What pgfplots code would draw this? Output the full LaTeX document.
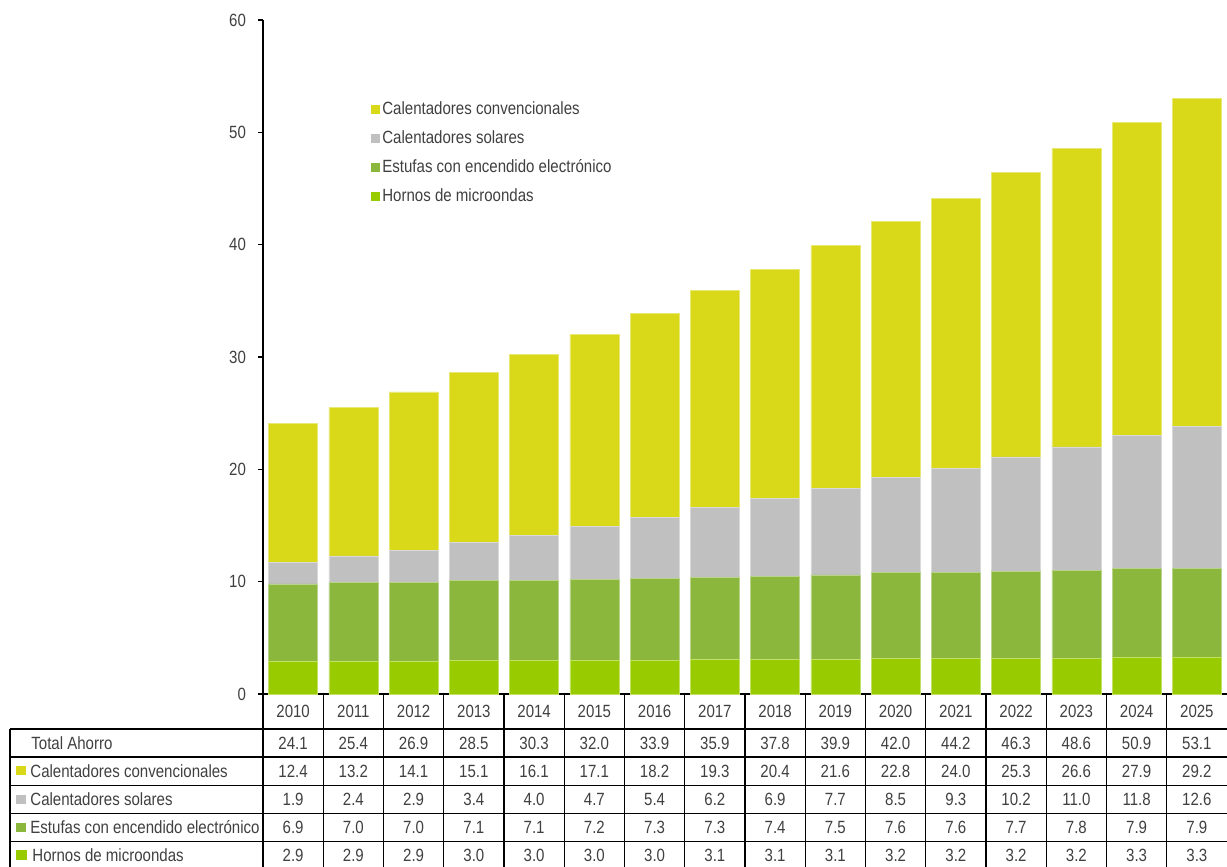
\documentclass[border=0pt]{standalone}
\usepackage{fontspec}
\setmainfont{Liberation Sans}[FakeStretch=0.85]
\usepackage{pgfplots}
\usepackage{pgfplotstable}
\pgfplotsset{compat=1.18}
\pgfkeys{/pgf/number format/assume math mode=true}

\definecolor{cconv}{RGB}{217,217,26}
\definecolor{csol}{RGB}{192,192,192}
\definecolor{cest}{RGB}{139,183,60}
\definecolor{chorn}{RGB}{153,204,0}
\definecolor{txt}{RGB}{64,64,64}

\pgfplotstableread{
year tot conv sol est horn
2010 24.1 12.4 1.9 6.9 2.9
2011 25.4 13.2 2.4 7.0 2.9
2012 26.9 14.1 2.9 7.0 2.9
2013 28.5 15.1 3.4 7.1 3.0
2014 30.3 16.1 4.0 7.1 3.0
2015 32.0 17.1 4.7 7.2 3.0
2016 33.9 18.2 5.4 7.3 3.0
2017 35.9 19.3 6.2 7.3 3.1
2018 37.8 20.4 6.9 7.4 3.1
2019 39.9 21.6 7.7 7.5 3.1
2020 42.0 22.8 8.5 7.6 3.2
2021 44.2 24.0 9.3 7.6 3.2
2022 46.3 25.3 10.2 7.7 3.2
2023 48.6 26.6 11.0 7.8 3.2
2024 50.9 27.9 11.8 7.9 3.3
2025 53.1 29.2 12.6 7.9 3.3
}\datatab

\begin{document}
\begin{tikzpicture}[font=\fontsize{8.85}{10.6}\selectfont, text=txt]
\begin{axis}[
  scale only axis, width=482pt, height=337pt,
  xmin=-0.5, xmax=15.5, ymin=0, ymax=60,
  ybar stacked, bar width=0.813,
  axis lines*=left,
  axis line style={black, line width=0.65pt},
  xtick=\empty,
  ytick={0,10,...,60},
  tick align=outside,
  major tick length=2.5pt,
  ytick style={black, line width=0.65pt},
  yticklabel style={text=txt, xshift=-2.5pt},
  clip=false,
  reverse legend,
  legend cell align=left,
  legend style={at={(0.112,0.883)}, anchor=north west, draw=none, fill=none,
    inner sep=0pt, row sep=4pt,
    nodes={inner sep=1pt, text height=6.5pt, text depth=2pt, text=txt}},
  legend image code/.code={\path[#1,draw=none] (0pt,-2.25pt) rectangle (4.5pt,2.25pt);},
]
\addplot[fill=chorn, draw=chorn!60!white, line width=0.3pt] table[x expr=\coordindex, y=horn]{\datatab};
\addlegendentry{Hornos de microondas}
\addplot[fill=cest, draw=cest!60!white, line width=0.3pt] table[x expr=\coordindex, y=est]{\datatab};
\addlegendentry{Estufas con encendido electrónico}
\addplot[fill=csol, draw=csol!60!white, line width=0.3pt] table[x expr=\coordindex, y=sol]{\datatab};
\addlegendentry{Calentadores solares}
\addplot[fill=cconv, draw=cconv!60!white, line width=0.3pt] table[x expr=\coordindex, y=conv]{\datatab};
\addlegendentry{Calentadores convencionales}
\coordinate (O) at (rel axis cs:0,0);
\end{axis}
\begin{scope}[shift={(O)}, x=0.5pt, y=-0.5pt, shift={(-263,-694)}]
  % grid lines
  \foreach \yy in {729,757,785.5,813.5,841.5}
    \draw[black, line width=0.65pt] (10,\yy) -- (1227,\yy);
  \draw[black, line width=0.65pt] (10,729) -- (10,867);
  \foreach \k in {0,...,15}
    \draw[black, line width=0.65pt] (263+60.25*\k,694) -- (263+60.25*\k,867);
  % row labels
  \node[anchor=west, inner sep=0pt] at (31,743) {Total Ahorro};
  \fill[cconv] (16,766.5) rectangle (26,775.5);
  \node[anchor=west, inner sep=0pt] at (30,771) {Calentadores convencionales};
  \fill[csol] (16,795) rectangle (26,804);
  \node[anchor=west, inner sep=0pt] at (30,799.5) {Calentadores solares};
  \fill[cest] (16,823) rectangle (26,832);
  \node[anchor=west, inner sep=0pt] at (30,827.5) {Estufas con encendido electrónico};
  \fill[chorn] (16,850.5) rectangle (27,859.5);
  \node[anchor=west, inner sep=0pt] at (32,855) {Hornos de microondas};
  % values
  \foreach \i in {0,...,15} {
    \pgfplotstablegetelem{\i}{year}\of\datatab
    \node at (263+60.25*\i+30.125, 711) {\pgfplotsretval};
    \pgfplotstablegetelem{\i}{tot}\of\datatab
    \node at (263+60.25*\i+30.125, 743) {\pgfmathprintnumber[fixed,fixed zerofill,precision=1]{\pgfplotsretval}};
    \pgfplotstablegetelem{\i}{conv}\of\datatab
    \node at (263+60.25*\i+30.125, 771) {\pgfmathprintnumber[fixed,fixed zerofill,precision=1]{\pgfplotsretval}};
    \pgfplotstablegetelem{\i}{sol}\of\datatab
    \node at (263+60.25*\i+30.125, 799.5) {\pgfmathprintnumber[fixed,fixed zerofill,precision=1]{\pgfplotsretval}};
    \pgfplotstablegetelem{\i}{est}\of\datatab
    \node at (263+60.25*\i+30.125, 827.5) {\pgfmathprintnumber[fixed,fixed zerofill,precision=1]{\pgfplotsretval}};
    \pgfplotstablegetelem{\i}{horn}\of\datatab
    \node at (263+60.25*\i+30.125, 855) {\pgfmathprintnumber[fixed,fixed zerofill,precision=1]{\pgfplotsretval}};
  }
  \pgfresetboundingbox
  \path (0,0) rectangle (1227,867);
\end{scope}
\end{tikzpicture}
\end{document}
